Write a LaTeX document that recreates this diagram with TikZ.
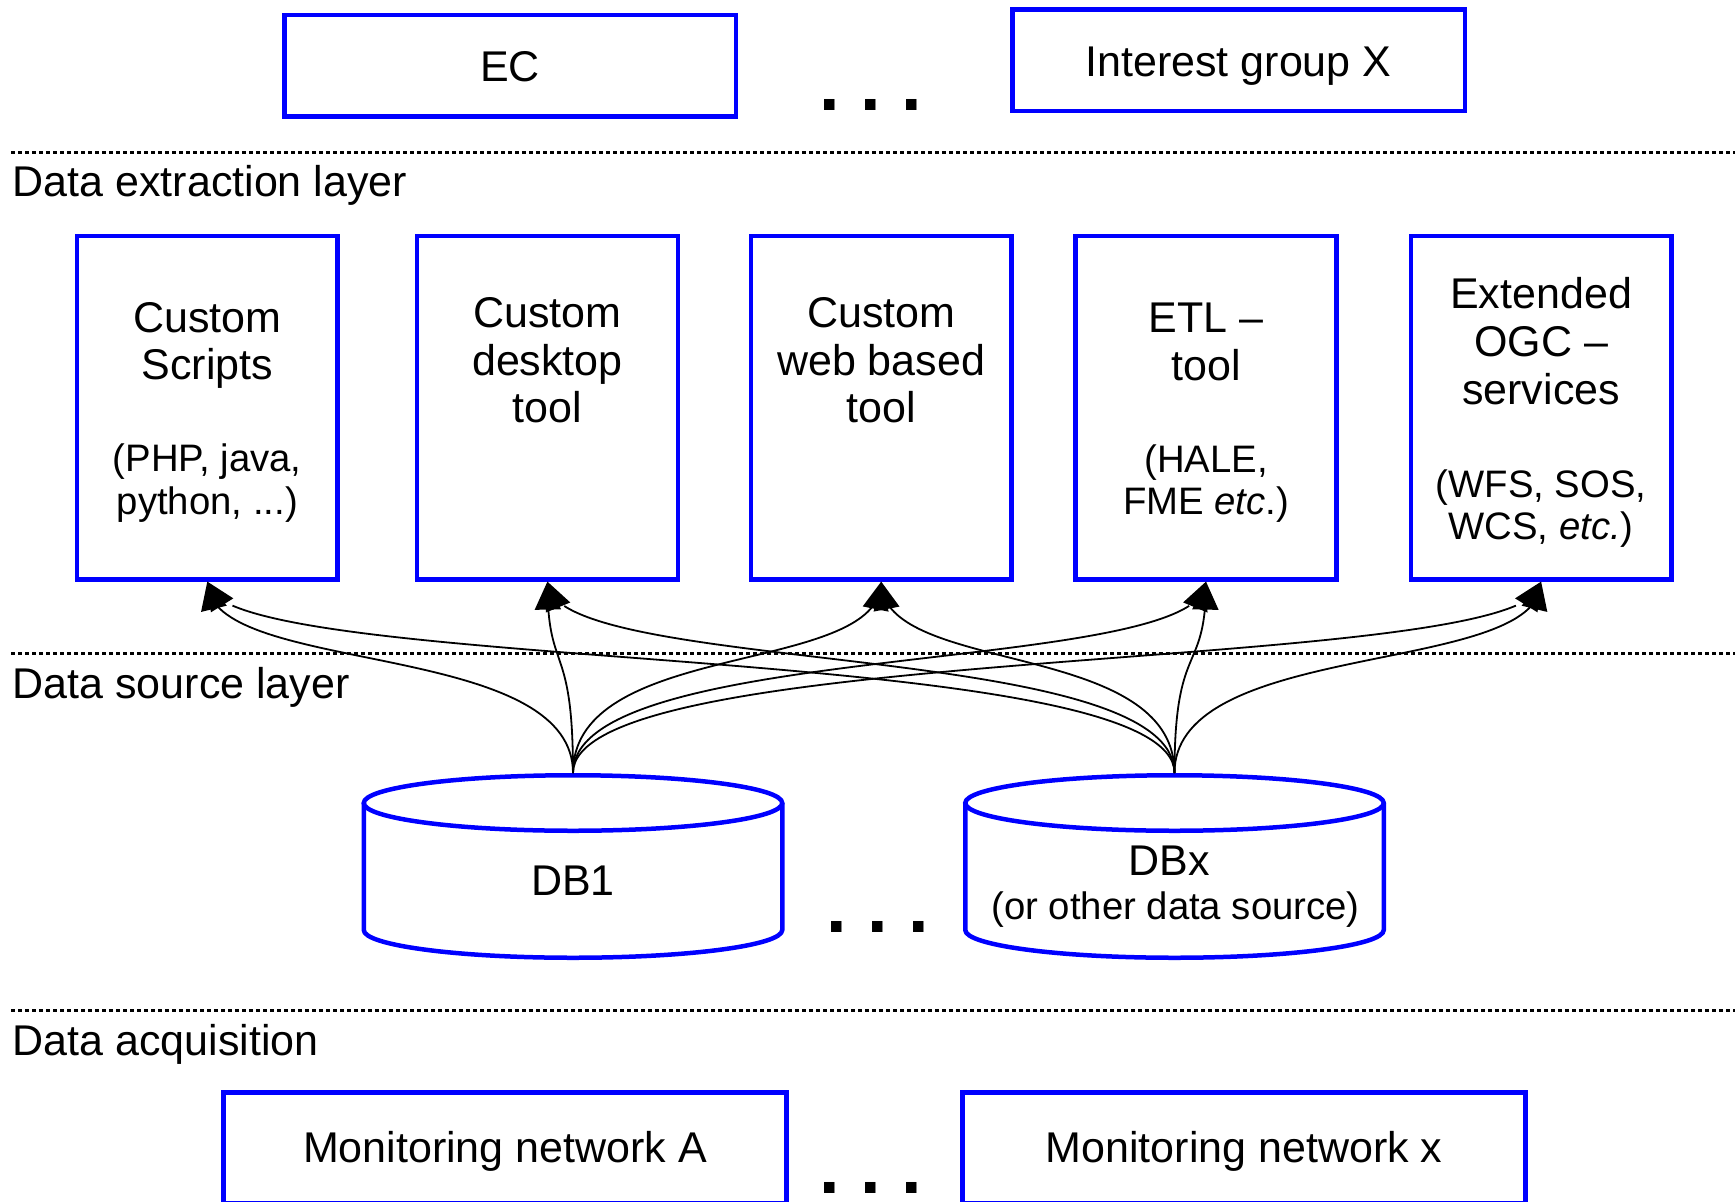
\documentclass[tikz,border=0pt]{standalone}
\usepackage{fontspec}
\setmainfont{Liberation Sans}
\usetikzlibrary{arrows.meta,bending}
\definecolor{boxblue}{RGB}{0,0,255}
\tikzset{
  box/.style={draw=boxblue, line width=4.5pt, rectangle, inner sep=0pt},
  toolbox/.style={box, minimum width=260.7pt, minimum height=343.3pt},
  netbox/.style={box, minimum width=563pt, minimum height=110.5pt},
  dbnode/.style={minimum width=423pt, minimum height=187pt, inner sep=0pt, outer sep=0pt},
  dbline/.style={draw=boxblue, line width=4.5pt},
  main/.style={font=\fontsize{43}{47}\selectfont, inner sep=0pt, anchor=base},
  sub/.style={font=\fontsize{38.3}{41}\selectfont, inner sep=0pt, anchor=base},
  layer/.style={font=\fontsize{43}{47}\selectfont, inner sep=0pt, anchor=base west},
  sep/.style={line width=3pt, dash pattern=on 4pt off 3pt},
  more/.style={font=\bfseries\fontsize{74}{74}\selectfont, inner sep=0pt, anchor=base},
  feed/.style={line width=1.8pt, -{Triangle[length=28pt,width=26pt,flex=0.6]}},
}
\begin{document}
\begin{tikzpicture}[x=1pt,y=1pt]
\useasboundingbox (0,0) rectangle (1735,-1202);
\clip (0,0) rectangle (1735,-1202);
\fill[white] (0,0) rectangle (1735,-1202);

% layer separators and their labels
\draw[sep] (11,-152.3) -- (1735,-152.3);
\draw[sep] (11,-653.3) -- (1735,-653.3);
\draw[sep] (11,-1010) -- (1735,-1010);
\node[layer] (lext) at (12.5,-196.7) {Data extraction layer};
\node[layer] (lsrc) at (12.5,-698.5) {Data source layer};
\node[layer] (lacq) at (12.5,-1055) {Data acquisition};

% consumers
\node[box, minimum width=451.5pt, minimum height=101.5pt] (ec) at (510,-65.7) {};
\node[main] (ect) at (510,-81) {EC};
\node[box, minimum width=452.5pt, minimum height=101.5pt] (ig) at (1238.5,-60.3) {};
\node[main] (igt) at (1238.5,-76.7) {Interest group X};
\node[more] (dtop) at (870.5,-110) {.\ .\ .};

% extraction tools
\node[toolbox] (x1) at (207.3,-407.7) {};
\node[toolbox] (x2) at (547.4,-407.7) {};
\node[toolbox] (x3) at (881.2,-407.7) {};
\node[toolbox] (x4) at (1206,-407.7) {};
\node[toolbox] (x5) at (1541.1,-407.7) {};

\node[main] (x1a) at (207.3,-332.5) {Custom};
\node[main] (x1b) at (207.3,-379.2) {Scripts};
\node[sub]  (x1c) at (207.3,-471.4) {(PHP, java,};
\node[sub]  (x1d) at (207.3,-514.2) {python, ...)};

\node[main] (x2a) at (547.4,-327) {Custom};
\node[main] (x2b) at (547.4,-375) {desktop};
\node[main] (x2c) at (547.4,-422) {tool};

\node[main] (x3a) at (881.2,-327) {Custom};
\node[main] (x3b) at (881.2,-375) {web based};
\node[main] (x3c) at (881.2,-422) {tool};

\node[main] (x4a) at (1206,-332.5) {ETL –};
\node[main] (x4b) at (1206,-380) {tool};
\node[sub]  (x4c) at (1206,-472.7) {(HALE,};
\node[sub]  (x4d) at (1206,-514.5) {FME \textit{etc}.)};

\node[main] (x5a) at (1541.1,-308.5) {Extended};
\node[main] (x5b) at (1541.1,-356.2) {OGC –};
\node[main] (x5c) at (1541.1,-404) {services};
\node[sub]  (x5d) at (1541.1,-497.7) {(WFS, SOS,};
\node[sub]  (x5e) at (1541.1,-539) {WCS, \textit{etc.})};

% data sources (cylinders drawn round their bounding nodes)
\node[dbnode] (db1) at (573,-866.5) {};
\node[dbnode] (dbx) at (1174.5,-866.5) {};
\foreach \c in {db1,dbx}{
  \draw[dbline] ([yshift=-30pt]\c.north) ellipse [x radius=209.25, y radius=27.75];
  \draw[dbline] ([shift={(2.25pt,-30pt)}]\c.north west)
    -- ([shift={(2.25pt,30pt)}]\c.south west)
    arc [start angle=180, end angle=360, x radius=209.25, y radius=27.75]
    -- ([shift={(-2.25pt,-30pt)}]\c.north east);
}
\node[main] (db1t) at (573,-895) {DB1};
\node[main] (dbxt) at (1169.5,-875) {DBx};
\node[sub]  (dbxs) at (1175.5,-919) {(or other data source)};
\node[more] (dmid) at (877.7,-932.7) {.\ .\ .};

% feeds from every source to every tool
\foreach \s in {db1,dbx}
  \foreach \t in {x1,x2,x3,x4,x5}
    \draw[feed] (\s.north) .. controls +(0,135) and +(0,-95) .. (\t.south);

% acquisition
\node[netbox] (ma) at (505,-1147.5) {};
\node[main] (mat) at (505,-1162.7) {Monitoring network A};
\node[netbox] (mx) at (1244,-1147.5) {};
\node[main] (mxt) at (1244,-1162.7) {Monitoring network x};
\node[more] (dbot) at (871,-1193.3) {.\ .\ .};
\end{tikzpicture}
\end{document}
